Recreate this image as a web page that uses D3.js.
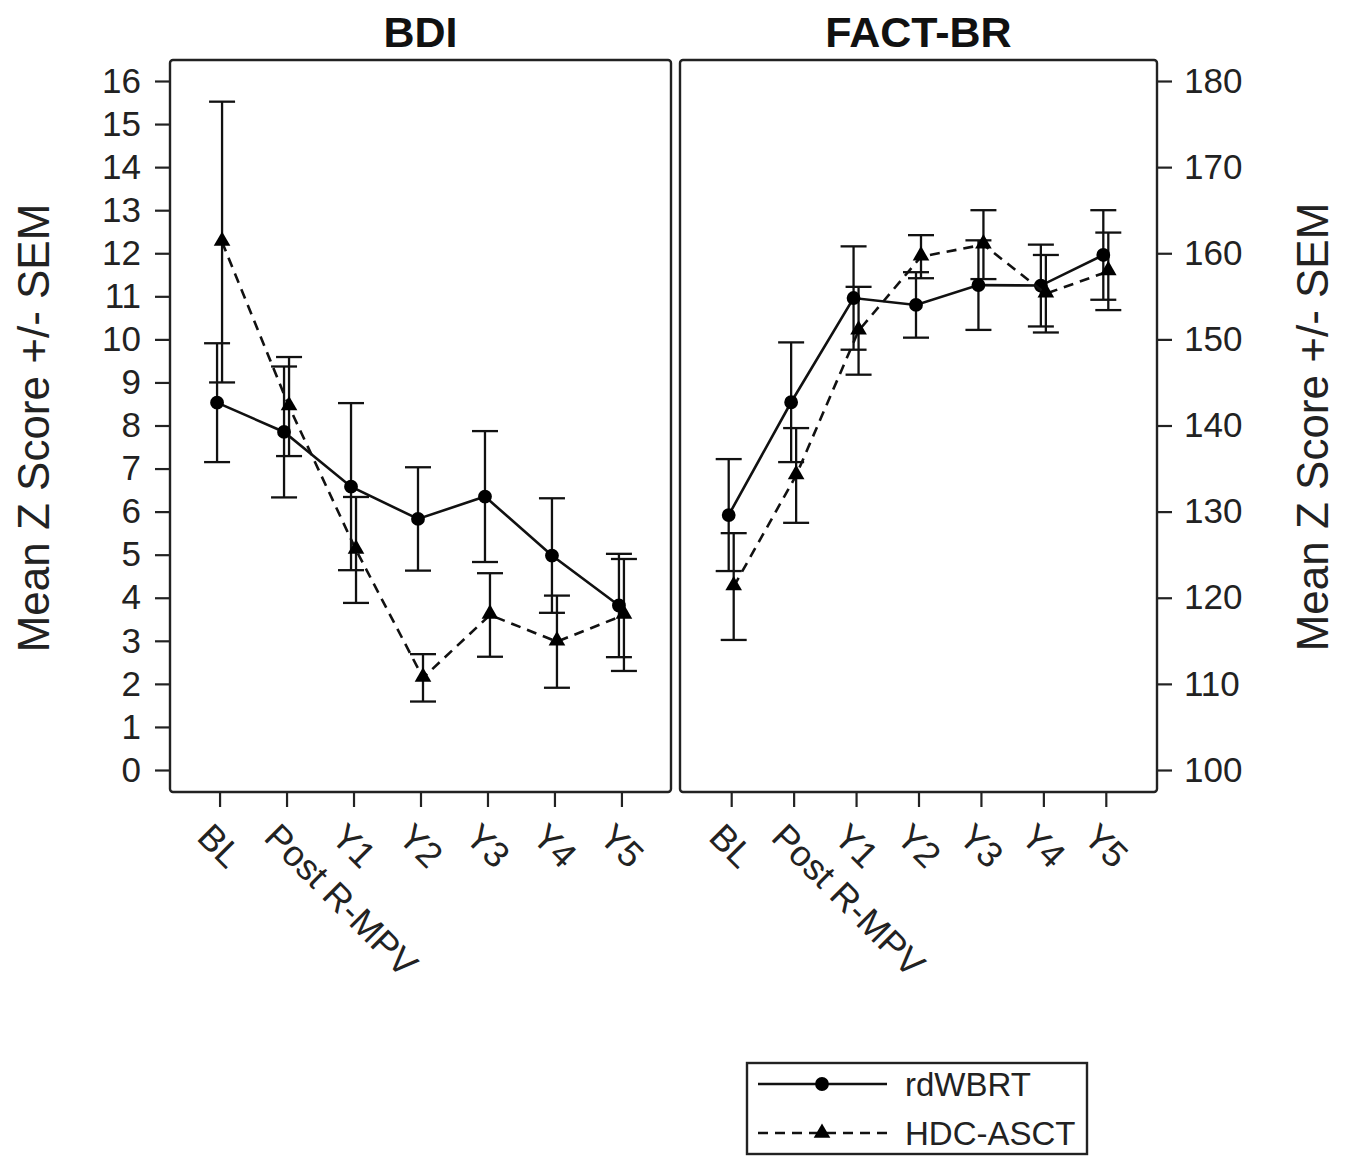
<!DOCTYPE html>
<html>
<head>
<meta charset="utf-8">
<script src="https://cdn.jsdelivr.net/npm/d3@7"></script>
<style>
  body { margin: 0; background: #fff; }
  svg { font-family: Arial, "Liberation Sans", sans-serif; }
</style>
</head>
<body>
<div id="chart"></div>
<script>
const timepoints = ['BL', 'Post R-MPV', 'Y1', 'Y2', 'Y3', 'Y4', 'Y5'];
const groups = ['rdWBRT', 'HDC-ASCT'];

// BDI panel
const bdiWbrtMean = [8.53, 7.85, 6.58, 5.83, 6.35, 4.98, 3.82];
const bdiWbrtSem  = [1.38, 1.52, 1.94, 1.20, 1.52, 1.33, 1.20];
const bdiAsctMean = [12.26, 8.44, 5.11, 2.14, 3.60, 2.98, 3.60];
const bdiAsctSem  = [3.26, 1.15, 1.23, 0.55, 0.97, 1.07, 1.30];
const bdiTicks = [0, 1, 2, 3, 4, 5, 6, 7, 8, 9, 10, 11, 12, 13, 14, 15, 16];

// FACT-BR panel
const factWbrtMean = [129.6, 142.7, 154.8, 154.0, 156.3, 156.25, 159.8];
const factWbrtSem  = [6.5, 6.95, 6.0, 3.8, 5.2, 4.75, 5.2];
const factAsctMean = [121.3, 134.2, 151.0, 159.6, 161.0, 155.3, 157.9];
const factAsctSem  = [6.2, 5.5, 5.1, 2.5, 4.0, 4.5, 4.5];
const factTicks = [100, 110, 120, 130, 140, 150, 160, 170, 180];

const width = 1347;
const height = 1157;
const plotTop = 60, plotBottom = 792;
const dodge = 2.5;
const capHalf = 13;

const svg = d3.select('#chart')
  .append('svg')
  .attr('width', width)
  .attr('height', height);

let drawPanel = (opts) => {
  const x = d3.scalePoint()
    .domain(timepoints)
    .range([opts.left, opts.right])
    .padding(opts.pad);

  const y = d3.scaleLinear()
    .domain(opts.domain)
    .range([770, 81]);

  const g = svg.append('g');

  // y axis
  const yAxis = opts.side == 'left'
    ? d3.axisLeft(y).tickValues(opts.ticks).tickSize(15).tickPadding(14)
    : d3.axisRight(y).tickValues(opts.ticks).tickSize(15).tickPadding(12);
  const ya = g.append('g')
    .attr('transform', `translate(${opts.side == 'left' ? opts.left : opts.right}, 0)`)
    .call(yAxis);
  ya.select('.domain').remove();
  ya.selectAll('line').attr('stroke', '#222').attr('stroke-width', 2.2);
  ya.selectAll('text').attr('font-size', 35).attr('fill', '#222')
    .attr('font-family', 'Arial, "Liberation Sans", sans-serif');

  // x axis
  const xa = g.append('g')
    .attr('transform', `translate(0, ${plotBottom})`)
    .call(d3.axisBottom(x).tickSize(15).tickFormat(''));
  xa.select('.domain').remove();
  xa.selectAll('line').attr('stroke', '#222').attr('stroke-width', 2.2);

  g.selectAll('.xlab')
    .data(timepoints)
    .enter()
    .append('text')
    .attr('class', 'xlab')
    .attr('transform', d => `translate(${x(d) - 24}, ${plotBottom + 47}) rotate(45)`)
    .attr('font-size', 36)
    .attr('fill', '#222')
    .text(d => d);

  // frame
  g.append('rect')
    .attr('x', opts.left)
    .attr('y', plotTop)
    .attr('width', opts.right - opts.left)
    .attr('height', plotBottom - plotTop)
    .attr('fill', 'none')
    .attr('stroke', '#222')
    .attr('stroke-width', 2.4)
    .attr('rx', 3);

  // title
  g.append('text')
    .attr('x', (opts.left + opts.right) / 2)
    .attr('y', 47)
    .attr('text-anchor', 'middle')
    .attr('font-size', 43)
    .attr('font-weight', 'bold')
    .attr('fill', '#111')
    .text(opts.title);

  const series = [
    {mean: opts.wbrtMean, sem: opts.wbrtSem, off: -dodge, dash: null, shape: 'circle'},
    {mean: opts.asctMean, sem: opts.asctSem, off: dodge, dash: '10,7', shape: 'triangle'}
  ];

  series.forEach(s => {
    const pts = timepoints.map((t, i) => ({x: x(t) + s.off, m: s.mean[i], e: s.sem[i]}));

    const eb = g.append('g')
      .attr('stroke', '#111')
      .attr('stroke-width', 2.3);
    eb.selectAll('.stem').data(pts).enter().append('line')
      .attr('x1', d => d.x).attr('x2', d => d.x)
      .attr('y1', d => y(d.m - d.e)).attr('y2', d => y(d.m + d.e));
    eb.selectAll('.capHi').data(pts).enter().append('line')
      .attr('x1', d => d.x - capHalf).attr('x2', d => d.x + capHalf)
      .attr('y1', d => y(d.m + d.e)).attr('y2', d => y(d.m + d.e));
    eb.selectAll('.capLo').data(pts).enter().append('line')
      .attr('x1', d => d.x - capHalf).attr('x2', d => d.x + capHalf)
      .attr('y1', d => y(d.m - d.e)).attr('y2', d => y(d.m - d.e));
  });

  series.forEach(s => {
    const pts = timepoints.map((t, i) => ({x: x(t) + s.off, m: s.mean[i]}));
    const line = d3.line().x(d => d.x).y(d => y(d.m));
    g.append('path')
      .datum(pts)
      .attr('d', line)
      .attr('fill', 'none')
      .attr('stroke', '#111')
      .attr('stroke-width', 2.6)
      .attr('stroke-dasharray', s.dash);

    const sym = s.shape == 'circle'
      ? d3.symbol().type(d3.symbolCircle).size(150)
      : d3.symbol().type(d3.symbolTriangle).size(120);
    g.selectAll(null).data(pts).enter().append('path')
      .attr('d', sym)
      .attr('transform', d => `translate(${d.x}, ${y(d.m) + (s.shape == 'triangle' ? -1 : 0)})`)
      .attr('fill', '#000');
  });
};

drawPanel({
  left: 170, right: 671, pad: 0.74, domain: [0, 16], ticks: bdiTicks, side: 'left',
  title: 'BDI',
  wbrtMean: bdiWbrtMean, wbrtSem: bdiWbrtSem, asctMean: bdiAsctMean, asctSem: bdiAsctSem
});

drawPanel({
  left: 680, right: 1157, pad: 0.82, domain: [100, 180], ticks: factTicks, side: 'right',
  title: 'FACT-BR',
  wbrtMean: factWbrtMean, wbrtSem: factWbrtSem, asctMean: factAsctMean, asctSem: factAsctSem
});

// y axis titles
svg.append('text')
  .attr('transform', `translate(49, 428) rotate(-90)`)
  .attr('text-anchor', 'middle')
  .attr('font-size', 44)
  .attr('fill', '#222')
  .text('Mean Z Score +/- SEM');

svg.append('text')
  .attr('transform', `translate(1328, 427) rotate(-90)`)
  .attr('text-anchor', 'middle')
  .attr('font-size', 44)
  .attr('fill', '#222')
  .text('Mean Z Score +/- SEM');

// legend
const legend = svg.append('g');
legend.append('rect')
  .attr('x', 747).attr('y', 1063)
  .attr('width', 340).attr('height', 91)
  .attr('fill', 'none')
  .attr('stroke', '#222')
  .attr('stroke-width', 2.4);

const legendRows = legend.selectAll('.row')
  .data(groups)
  .enter()
  .append('g')
  .attr('transform', (d, i) => `translate(0, ${1084 + i * 49})`);

legendRows.append('line')
  .attr('x1', 758).attr('x2', 887)
  .attr('stroke', '#111')
  .attr('stroke-width', 2.6)
  .attr('stroke-dasharray', (d, i) => i == 0 ? null : '10,7');

legendRows.append('path')
  .attr('d', (d, i) => i == 0
    ? d3.symbol().type(d3.symbolCircle).size(150)()
    : d3.symbol().type(d3.symbolTriangle).size(120)())
  .attr('transform', 'translate(822, 0)')
  .attr('fill', '#000');

legendRows.append('text')
  .attr('x', 905)
  .attr('y', 12)
  .attr('font-size', 33)
  .attr('fill', '#222')
  .text(d => d);
</script>
</body>
</html>
